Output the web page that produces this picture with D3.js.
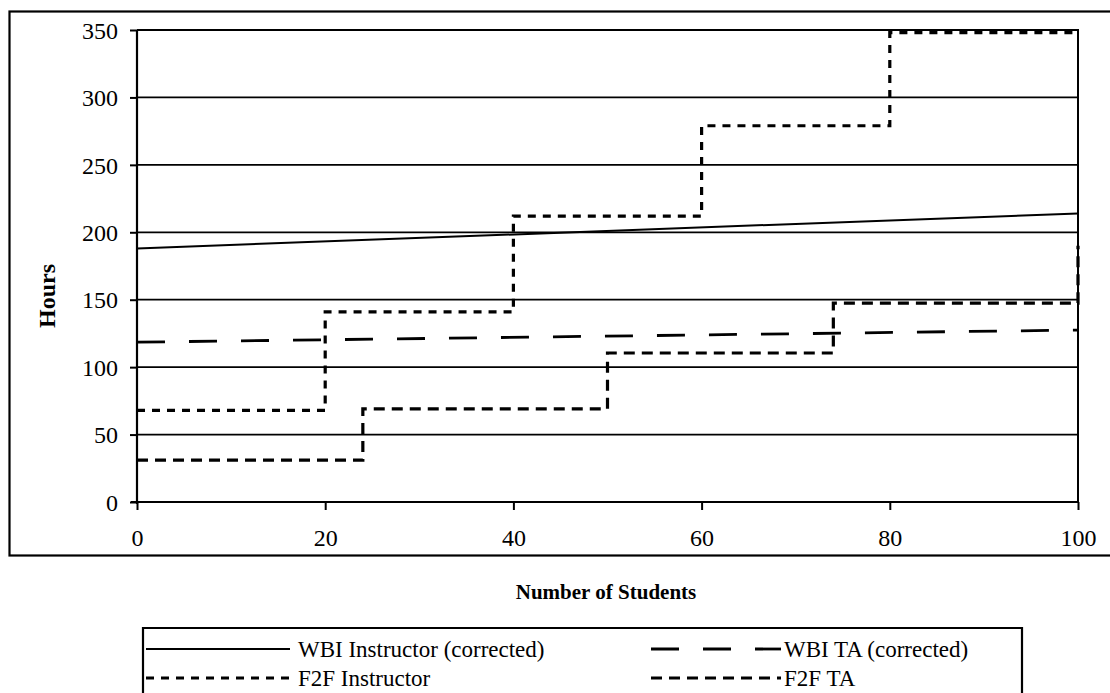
<!DOCTYPE html>
<html>
<head>
<meta charset="utf-8">
<script src="https://cdn.jsdelivr.net/npm/d3@7/dist/d3.min.js"></script>
<style>
  html, body { margin: 0; padding: 0; background: #fff; }
  svg { display: block; font-family: "Liberation Serif", "Times New Roman", serif; }
</style>
</head>
<body>
<svg id="chart" width="1110" height="693"></svg>
<script>
// Staffing hours versus class size
const yTicks = [0, 50, 100, 150, 200, 250, 300, 350];
const xTicks = [0, 20, 40, 60, 80, 100];

// WBI Instructor (corrected): straight line
const wbiInstructor = [[0, 188], [100, 214]];
// WBI TA (corrected): straight line
const wbiTA = [[0, 118.5], [100, 127.5]];
// F2F Instructor: step function
const f2fInstructor = [[0, 68], [20, 141], [40, 212], [60, 279], [80, 348], [100, 348]];
// F2F TA: step function
const f2fTA = [[0, 31], [24, 69], [50, 110.5], [74, 147.5], [100, 190]];

const seriesNames = ["WBI Instructor (corrected)", "WBI TA (corrected)", "F2F Instructor", "F2F TA"];

const svg = d3.select("#chart");

const plot = { left: 137, right: 1078, top: 30, bottom: 502 };
const x = d3.scaleLinear().domain([0, 100]).range([plot.left, plot.right]);
const y = d3.scaleLinear().domain([0, 350]).range([plot.bottom, plot.top]);

// outer chart frame
svg.append("rect")
  .attr("x", 9.5).attr("y", 11.5).attr("width", 1110).attr("height", 544)
  .attr("fill", "none").attr("stroke", "#000").attr("stroke-width", 2.2);

// horizontal gridlines
svg.append("g").selectAll("line")
  .data(yTicks.filter(d => d > 0 && d < 350))
  .join("line")
  .attr("x1", plot.left).attr("x2", plot.right)
  .attr("y1", d => y(d)).attr("y2", d => y(d))
  .attr("stroke", "#000").attr("stroke-width", 1.8);

// plot area border (top and right)
svg.append("path")
  .attr("d", `M${plot.left},${y(350)} L${plot.right},${y(350)} L${plot.right},${y(0)}`)
  .attr("fill", "none").attr("stroke", "#000").attr("stroke-width", 2);

// y axis
const yAxis = d3.axisLeft(y).tickValues(yTicks).tickSize(7).tickPadding(12).tickFormat(d3.format("d"));
const gy = svg.append("g").attr("transform", `translate(${plot.left},0)`).call(yAxis);
gy.select(".domain").attr("stroke-width", 2.2).attr("d", `M0,${y(350)}V${y(0) + 2}`);
gy.selectAll(".tick line").attr("stroke-width", 2);
gy.selectAll(".tick text")
  .attr("font-family", "Liberation Serif").attr("font-size", 24).attr("fill", "#000")
  .attr("dy", "0.34em");

// x axis
const xAxis = d3.axisBottom(x).tickValues(xTicks).tickSize(8).tickPadding(19).tickFormat(d3.format("d"));
const gx = svg.append("g").attr("transform", `translate(0,${plot.bottom})`).call(xAxis);
gx.select(".domain").attr("stroke-width", 2.2).attr("d", `M${plot.left - 6},0H${plot.right}`);
gx.selectAll(".tick line").attr("stroke-width", 2);
gx.selectAll(".tick text")
  .attr("font-family", "Liberation Serif").attr("font-size", 24).attr("fill", "#000");

// axis titles
svg.append("text")
  .attr("transform", `translate(55,${(y(0) + y(350)) / 2 + 30}) rotate(-90)`)
  .attr("text-anchor", "middle")
  .attr("font-weight", "bold").attr("font-size", 24)
  .text("Hours");

svg.append("text")
  .attr("x", 606).attr("y", 599)
  .attr("text-anchor", "middle")
  .attr("font-weight", "bold").attr("font-size", 21)
  .text("Number of Students");

// series styles
const styles = [
  { data: wbiInstructor, curve: d3.curveLinear, width: 2, dash: null },
  { data: wbiTA, curve: d3.curveLinear, width: 2.8, dash: "28,24" },
  { data: f2fInstructor, curve: d3.curveStepAfter, width: 3.2, dash: "8,7" },
  { data: f2fTA, curve: d3.curveStepAfter, width: 3.2, dash: "11,7" }
];

const lineGen = c => d3.line().x(d => x(d[0])).y(d => y(d[1])).curve(c);

svg.append("g").selectAll("path")
  .data(styles)
  .join("path")
  .attr("d", s => lineGen(s.curve)(s.data))
  .attr("fill", "none")
  .attr("stroke", "#000")
  .attr("stroke-width", s => s.width)
  .attr("stroke-dasharray", s => s.dash);

// legend
const legend = svg.append("g");
legend.append("path")
  .attr("d", "M143,700 L143,628 L1022,628 L1022,700")
  .attr("fill", "none").attr("stroke", "#000").attr("stroke-width", 2.2);

const legendPos = [
  { sx: 146, ex: 290, tx: 298, ty: 649 },
  { sx: 651, ex: 781, tx: 784, ty: 649 },
  { sx: 146, ex: 290, tx: 298, ty: 678 },
  { sx: 651, ex: 781, tx: 784, ty: 678 }
];

const items = legend.selectAll("g.item")
  .data(seriesNames.map((n, i) => ({ name: n, style: styles[i], pos: legendPos[i] })))
  .join("g").attr("class", "item");

items.append("line")
  .attr("x1", d => d.pos.sx).attr("x2", d => d.pos.ex)
  .attr("y1", d => d.pos.ty).attr("y2", d => d.pos.ty)
  .attr("stroke", "#000")
  .attr("stroke-width", d => d.style.width)
  .attr("stroke-dasharray", d => d.style.dash);

items.append("text")
  .attr("x", d => d.pos.tx).attr("y", d => d.pos.ty)
  .attr("dy", "0.34em")
  .attr("font-size", 23)
  .text(d => d.name);
</script>
</body>
</html>
